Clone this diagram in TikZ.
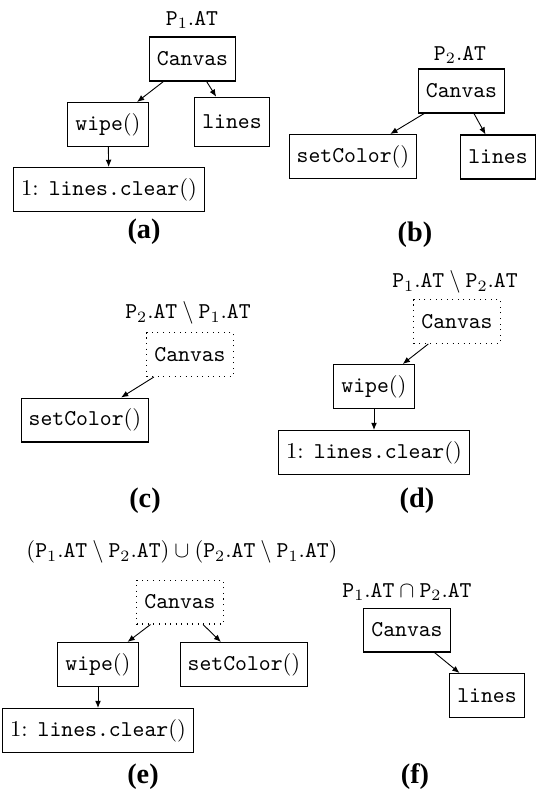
\documentclass[tikz,border=0pt]{standalone}
\usepackage{amsmath,amssymb}
\usepackage{fontspec}
\usepackage{tikz}
\usetikzlibrary{arrows.meta}
\newfontfamily\capfont{Liberation Serif}
\newcommand{\Pone}{\mathtt{P}_1\mathtt{.AT}}
\newcommand{\Ptwo}{\mathtt{P}_2\mathtt{.AT}}
\newcommand{\subcap}[1]{{\capfont\bfseries\fontsize{12.5}{14}\selectfont(#1)}}
\begin{document}
\begin{tikzpicture}[x=0.01555cm,y=-0.01555cm,
  box/.style={draw,line width=0.45pt,minimum height=0.684cm,font=\ttfamily},
  dbox/.style={box,dotted},
  arr/.style={-{Latex[length=3.2pt,width=2.6pt]},line width=0.4pt}]
\useasboundingbox (0,0) rectangle (535,790);
% (a)
\node (labA) at (192,20) {$\Pone$};
\node[box] (canvasA) at (192.5,59) {Canvas};
\node[box] (wipeA) at (108,124.5) {wipe$()$};
\node[box,minimum height=0.77cm] (linesA) at (232,122) {lines};
\node[box] (clearA) at (109,189.5) {{\rmfamily 1: }lines.clear$()$};
\node (capA) at (144,232) {\subcap{a}};
\draw[arr] (canvasA) -- (wipeA);
\draw[arr] (canvasA) -- (linesA);
\draw[arr] (wipeA) -- (clearA);
% (b)
\node (labB) at (460,55) {$\Ptwo$};
\node[box] (canvasB) at (461.5,91) {Canvas};
\node[box] (setColorB) at (353,156.5) {setColor$()$};
\node[box] (linesB) at (498,157) {lines};
\node (capB) at (415,235) {\subcap{b}};
\draw[arr] (canvasB) -- (setColorB);
\draw[arr] (canvasB) -- (linesB);
% (c)
\node (labC) at (188,313) {$\Ptwo \setminus \Pone$};
\node[dbox] (canvasC) at (190,354.5) {Canvas};
\node[box] (setColorC) at (85,420) {setColor$()$};
\node (capC) at (145,501) {\subcap{c}};
\draw[arr] (canvasC) -- (setColorC);
% (d)
\node (labD) at (455,282) {$\Pone \setminus \Ptwo$};
\node[dbox] (canvasD) at (457,321.5) {Canvas};
\node[box] (wipeD) at (374,386.5) {wipe$()$};
\node[box] (clearD) at (374,452.5) {{\rmfamily 1: }lines.clear$()$};
\node (capD) at (417,501) {\subcap{d}};
\draw[arr] (canvasD) -- (wipeD);
\draw[arr] (wipeD) -- (clearD);
% (e)
\node (labE) at (182,552) {$(\Pone \setminus \Ptwo) \cup (\Ptwo \setminus \Pone)$};
\node[dbox] (canvasE) at (180,602) {Canvas};
\node[box] (wipeE) at (98,664.5) {wipe$()$};
\node[box] (setColorE) at (244,664.5) {setColor$()$};
\node[box] (clearE) at (98,730.5) {{\rmfamily 1: }lines.clear$()$};
\node (capE) at (143,777) {\subcap{e}};
\draw[arr] (canvasE) -- (wipeE);
\draw[arr] (canvasE) -- (setColorE);
\draw[arr] (wipeE) -- (clearE);
% (f)
\node (labF) at (407,592) {$\Pone \cap \Ptwo$};
\node[box] (canvasF) at (407,630) {Canvas};
\node[box] (linesF) at (487,695.5) {lines};
\node (capF) at (415,777) {\subcap{f}};
\draw[arr] (canvasF) -- (linesF);
\end{tikzpicture}
\end{document}
